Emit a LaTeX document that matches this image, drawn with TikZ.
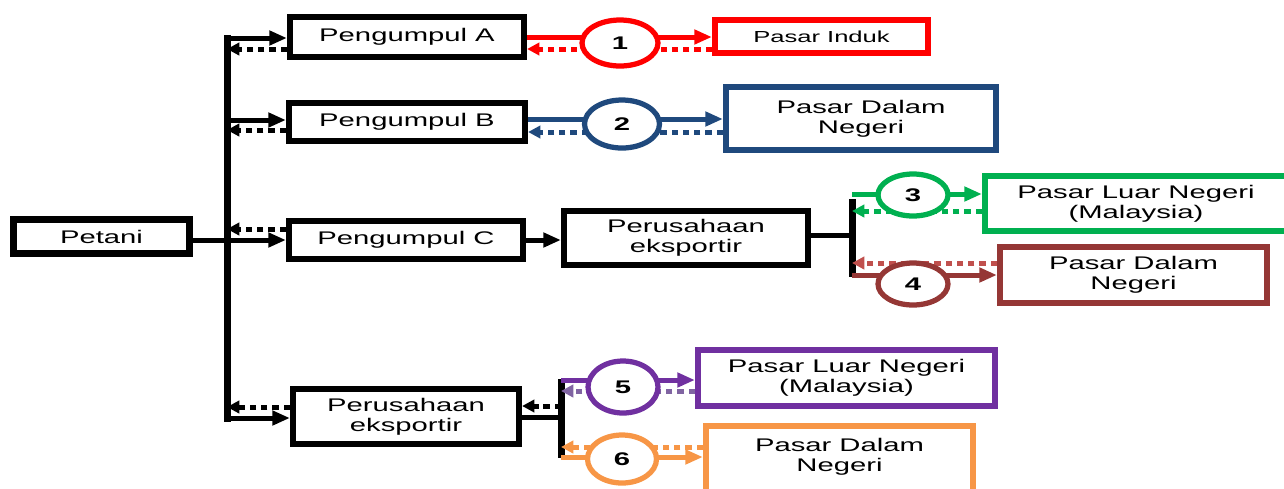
\documentclass[tikz,border=0pt]{standalone}
\usepackage{fontspec}
\setmainfont{Liberation Sans}[FakeStretch=1.6]
\usetikzlibrary{arrows.meta,shapes.geometric,backgrounds}
\definecolor{cred}{RGB}{255,0,0}
\definecolor{cblue}{RGB}{31,73,125}
\definecolor{cgreen}{RGB}{0,176,80}
\definecolor{cbrown}{RGB}{149,55,53}
\definecolor{cbrownl}{RGB}{192,80,77}
\definecolor{cpurple}{RGB}{112,48,160}
\definecolor{cpurplel}{RGB}{128,100,162}
\definecolor{corange}{RGB}{247,150,70}
\tikzset{
 box/.style={draw, line width=0.115cm, inner sep=0pt, align=center, fill=white,
   font=\fontsize{10.4}{11.2}\selectfont},
 circ/.style={ellipse, draw, line width=0.105cm, inner sep=0pt, fill=white,
   font=\fontsize{10.4}{12}\selectfont\bfseries},
 sol/.style={line width=0.1cm, -{Triangle[length=10pt,width=8pt]}},
 dotarr/.style={line width=0.1cm, dash pattern=on 3.6pt off 2.8pt, -{Triangle[length=7pt,width=7pt]}},
 plainline/.style={line width=0.1cm},
 barline/.style={line width=0.14cm},
}
\begin{document}
\begin{tikzpicture}[x=0.02cm,y=-0.02cm]
\clip (0,0) rectangle (1284,488);

% boxes
\node[box, line width=0.14cm, minimum width=3.52cm, minimum height=0.68cm] (petani) at (101.5,236.5) {Petani};
\node[box, minimum width=4.69cm, minimum height=0.79cm] (pA) at (407,37) {Pengumpul A};
\node[box, minimum width=4.73cm, minimum height=0.77cm] (pB) at (407,122) {Pengumpul B};
\node[box, minimum width=4.69cm, minimum height=0.77cm] (pC) at (406,240) {Pengumpul C};
\node[box, minimum width=4.89cm, minimum height=1.09cm] (pe1) at (686,238) {Perusahaan\\eksportir};
\node[box, minimum width=4.53cm, minimum height=1.11cm] (pe2) at (406,416.5) {Perusahaan\\eksportir};

\node[box, draw=cred, font=\fontsize{9.1}{10}\selectfont, minimum width=4.27cm, minimum height=0.67cm] (pI) at (821.5,36.5) {Pasar Induk};
\node[box, draw=cblue, minimum width=5.41cm, minimum height=1.27cm] (pdnB) at (861,118.5) {Pasar Dalam\\Negeri};
\node[box, draw=cgreen, minimum width=6.05cm, minimum height=1.11cm] (plnC) at (1136,203.5) {Pasar Luar Negeri\\(Malaysia)};
\node[box, draw=cbrown, minimum width=5.35cm, minimum height=1.13cm] (pdnC) at (1133.5,275) {Pasar Dalam\\Negeri};
\node[box, draw=cpurple, minimum width=5.95cm, minimum height=1.13cm] (plnE) at (846.5,378) {Pasar Luar Negeri\\(Malaysia)};
\node[box, draw=corange, minimum width=5.35cm, minimum height=1.46cm] (pdnE) at (839.5,462.5) {Pasar Dalam\\Negeri\\[-2.4pt]\mbox{}};

% circles
\node[circ, draw=cred, minimum width=1.52cm, minimum height=0.92cm] (c1) at (620,43) {1};
\node[circ, draw=cblue, minimum width=1.5cm, minimum height=0.96cm] (c2) at (622,124) {2};
\node[circ, draw=cgreen, minimum width=1.4cm, minimum height=0.84cm] (c3) at (913,195) {3};
\node[circ, draw=cbrown, minimum width=1.4cm, minimum height=0.84cm] (c4) at (913,284) {4};
\node[circ, draw=cpurple, minimum width=1.4cm, minimum height=1.04cm] (c5) at (623,387) {5};
\node[circ, draw=corange, minimum width=1.38cm, minimum height=0.96cm] (c6) at (622,459) {6};

% free ends
\coordinate (busTop) at (227,38);
\coordinate (busBot) at (227,418);
\coordinate (bar1T) at (852,194);
\coordinate (bar1B) at (852,277);
\coordinate (bar2T) at (561,379);
\coordinate (bar2B) at (561,458);

\begin{scope}[on background layer]
% bus
\draw[barline, line cap=rect] (busTop) -- (busBot);
\draw[sol] (busTop) -- (busTop -| pA.west);
\draw[dotarr] (pA.west |- 0,49) -- (busTop |- 0,49);
\draw[sol] (busTop |- 0,120) -- (pB.west |- 0,120);
\draw[dotarr] (pB.west |- 0,130) -- (busTop |- 0,130);
\draw[dotarr] (pC.west |- 0,229) -- (busTop |- 0,229);
\draw[sol] (petani.east |- pC.west) -- (pC.west);
\draw[dotarr] (pe2.west |- 0,407) -- (busTop |- 0,407);
\draw[sol] (busBot) -- (busBot -| pe2.west);

% Pengumpul A - Pasar Induk
\draw[sol, cred] (pA.east |- 0,37) -- (pI.west |- 0,37);
\draw[dotarr, cred] (pI.west |- 0,49) -- (pA.east |- 0,49);
% Pengumpul B - Pasar Dalam Negeri
\draw[sol, cblue] (pB.east |- 0,119) -- (pdnB.west |- 0,119);
\draw[dotarr, cblue] (pdnB.west |- 0,132) -- (pB.east |- 0,132);
% Pengumpul C - Perusahaan
\draw[sol] (pC.east) -- (pC.east -| pe1.west);
\draw[plainline] (pe1.east |- 0,235) -- (bar1T |- 0,235);
\draw[barline] (bar1T |- 0,199) -- (bar1B);
\draw[sol, cgreen] (bar1T) -- (bar1T -| plnC.west);
\draw[dotarr, cgreen] (plnC.west |- 0,211) -- (bar1T |- 0,211);
\draw[dotarr, cbrownl] (pdnC.west |- 0,263) -- (bar1T |- 0,263);
\draw[sol, cbrown] (bar1B |- 0,275) -- (pdnC.west |- 0,275);
% Perusahaan 2
\draw[plainline] (pe2.east |- 0,417) -- (bar2T |- 0,417);
\draw[barline] (bar2T) -- (bar2B);
\draw[dotarr] (bar2T |- 0,406) -- (pe2.east |- 0,406);
\draw[sol, cpurple] (bar2T |- 0,380) -- (plnE.west |- 0,380);
\draw[dotarr, cpurplel] (plnE.west |- 0,391) -- (bar2T |- 0,391);
\draw[dotarr, corange] (pdnE.west |- 0,447) -- (bar2T |- 0,447);
\draw[sol, corange] (bar2B |- 0,457) -- (pdnE.west |- 0,457);
\end{scope}
\end{tikzpicture}
\end{document}
